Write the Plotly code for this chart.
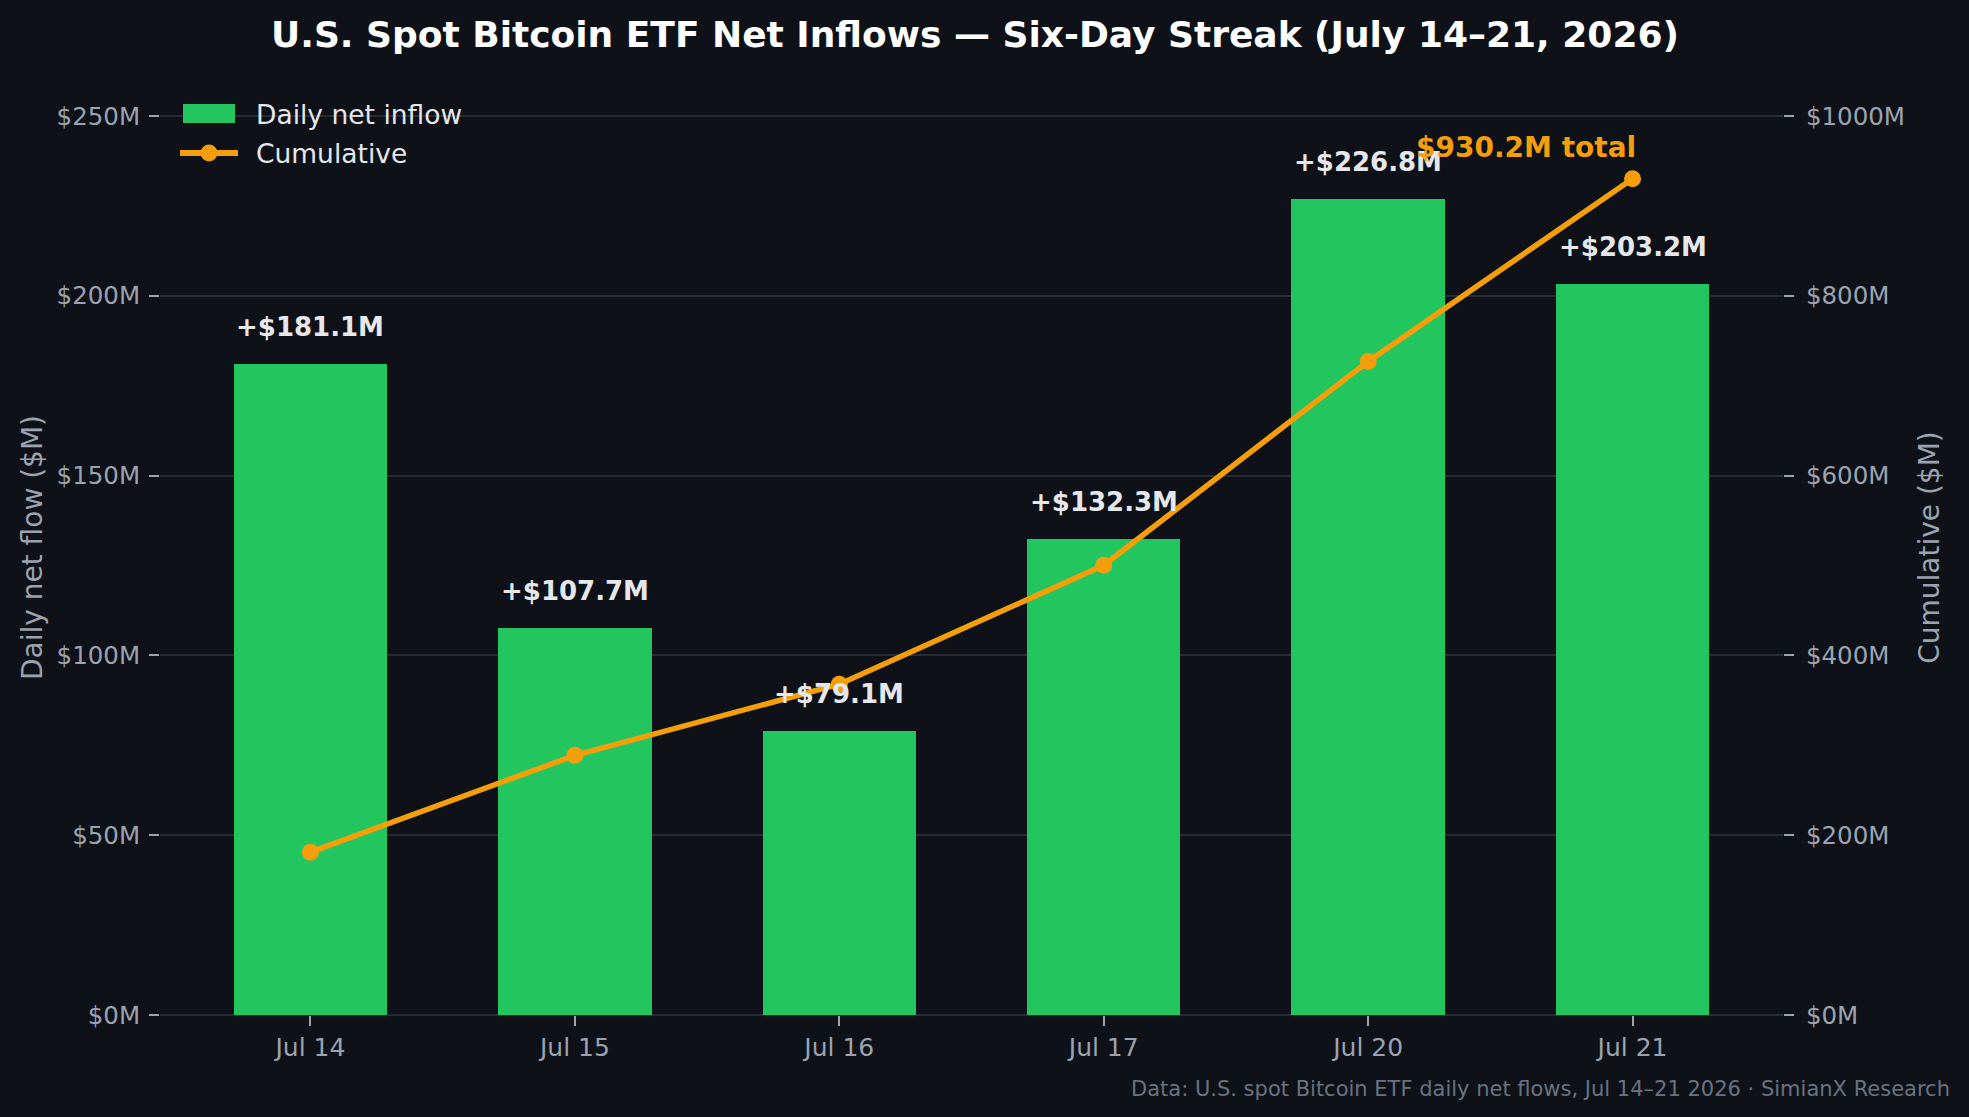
import plotly.graph_objects as go

# ---- data ----
dates = ["Jul 14", "Jul 15", "Jul 16", "Jul 17", "Jul 20", "Jul 21"]
daily_inflow = [181.1, 107.7, 79.1, 132.3, 226.8, 203.2]
cumulative = [181.1, 288.8, 367.9, 500.2, 727.0, 930.2]
left_tickvals = [0, 50, 100, 150, 200, 250]
left_ticktext = ["$0M", "$50M", "$100M", "$150M", "$200M", "$250M"]
right_tickvals = [0, 200, 400, 600, 800, 1000]
right_ticktext = ["$0M", "$200M", "$400M", "$600M", "$800M", "$1000M"]
bar_labels = ["+$181.1M", "+$107.7M", "+$79.1M", "+$132.3M", "+$226.8M", "+$203.2M"]
series_names = ["Daily net inflow", "Cumulative"]
total_label = "$930.2M total"
title_text = "U.S. Spot Bitcoin ETF Net Inflows \u2014 Six-Day Streak (July 14\u201321, 2026)"
footer_text = "Data: U.S. spot Bitcoin ETF daily net flows, Jul 14\u201321 2026 \u00b7 SimianX Research"

# ---- style ----
W, H = 1969, 1117
ML, MR, MT, MB = 160, 186, 80, 102
BG = "#0e1118"
GRID = "#262b36"
TICK = "#9ca3af"
TEXT = "#e5e7eb"
GREEN = "#22c55e"
ORANGE = "#f59e0b"
FONT = "DejaVu Sans"

pw = W - ML - MR
ph = H - MT - MB


def px_x(x):
    return (x - ML) / pw


def px_y(y):
    return (H - MB - y) / ph


fig = go.Figure()
fig.add_trace(go.Bar(
    x=dates, y=daily_inflow, name=series_names[0],
    marker=dict(color=GREEN, line=dict(width=0)), width=0.58,
    yaxis="y", showlegend=False,
))
fig.add_trace(go.Scatter(
    x=dates, y=cumulative, name=series_names[1], mode="lines+markers",
    line=dict(color=ORANGE, width=5.5), marker=dict(color=ORANGE, size=17),
    yaxis="y2", showlegend=False,
))

annotations = []
for d, v, lab in zip(dates, daily_inflow, bar_labels):
    annotations.append(dict(
        x=d, y=v, xref="x", yref="y", text="<b>" + lab + "</b>",
        showarrow=False, yanchor="bottom", xanchor="center", yshift=20,
        font=dict(family=FONT, size=26, color=TEXT),
    ))
annotations.append(dict(
    x=dates[-1], y=cumulative[-1], xref="x", yref="y2",
    text="<b>" + total_label + "</b>", showarrow=False,
    xanchor="right", yanchor="bottom", yshift=13, xshift=5,
    font=dict(family=FONT, size=28, color=ORANGE),
))
annotations.append(dict(
    x=px_x(1952), y=px_y(1089), xref="paper", yref="paper",
    text=footer_text, showarrow=False, xanchor="right", yanchor="middle",
    font=dict(family=FONT, size=21, color="#6b7280"),
))

# ---- legend (drawn as shapes + text) ----
shapes = [
    dict(type="rect", xref="paper", yref="paper",
         x0=px_x(183), x1=px_x(235), y0=px_y(123), y1=px_y(104),
         fillcolor=GREEN, line=dict(width=0), layer="above"),
    dict(type="line", xref="paper", yref="paper",
         x0=px_x(180), x1=px_x(238), y0=px_y(153), y1=px_y(153),
         line=dict(color=ORANGE, width=6), layer="above"),
    dict(type="circle", xref="paper", yref="paper",
         x0=px_x(209 - 8.5), x1=px_x(209 + 8.5), y0=px_y(153 + 8.5), y1=px_y(153 - 8.5),
         fillcolor=ORANGE, line=dict(width=0), layer="above"),
]
for name, yc in zip(series_names, [114, 154]):
    annotations.append(dict(
        x=px_x(254), y=px_y(yc), xref="paper", yref="paper", text=name,
        showarrow=False, xanchor="left", yanchor="middle",
        font=dict(family=FONT, size=26.5, color=TEXT),
    ))

fig.update_layout(
    width=W, height=H,
    margin=dict(l=ML, r=MR, t=MT, b=MB, pad=0),
    paper_bgcolor=BG, plot_bgcolor=BG,
    font=dict(family=FONT, color=TICK),
    showlegend=False,
    title=dict(
        text="<b>" + title_text + "</b>",
        x=px_x(975), xref="paper", xanchor="center",
        y=1 - 34 / H, yref="container", yanchor="middle",
        font=dict(family=FONT, size=36, color="#ffffff"),
    ),
    xaxis=dict(
        range=[-0.569, 5.569], showgrid=False, zeroline=False, showline=False,
        ticks="outside", ticklen=10, tickwidth=1.5, tickcolor=TICK,
        tickfont=dict(family=FONT, size=25, color=TICK),
    ),
    yaxis=dict(
        range=[0, 260], tickvals=left_tickvals, ticktext=left_ticktext,
        showgrid=True, gridcolor=GRID, gridwidth=1.5,
        zeroline=True, zerolinecolor=GRID, zerolinewidth=1.5, showline=False,
        ticks="outside", ticklen=10, tickwidth=1.5, tickcolor=TICK,
        ticklabelstandoff=4,
        tickfont=dict(family=FONT, size=24.5, color=TICK),
        title=dict(text="Daily net flow ($M)", standoff=5,
                   font=dict(family=FONT, size=28, color=TICK)),
    ),
    yaxis2=dict(
        range=[0, 1040], tickvals=right_tickvals, ticktext=right_ticktext,
        overlaying="y", side="right", showgrid=False, zeroline=False, showline=False,
        ticks="outside", ticklen=10, tickwidth=1.5, tickcolor=TICK,
        ticklabelstandoff=7,
        tickfont=dict(family=FONT, size=24.5, color=TICK),
        title=dict(text="Cumulative ($M)", standoff=15,
                   font=dict(family=FONT, size=28, color=TICK)),
    ),
    annotations=annotations,
    shapes=shapes,
    bargap=0,
)

fig.write_html("out.html")
